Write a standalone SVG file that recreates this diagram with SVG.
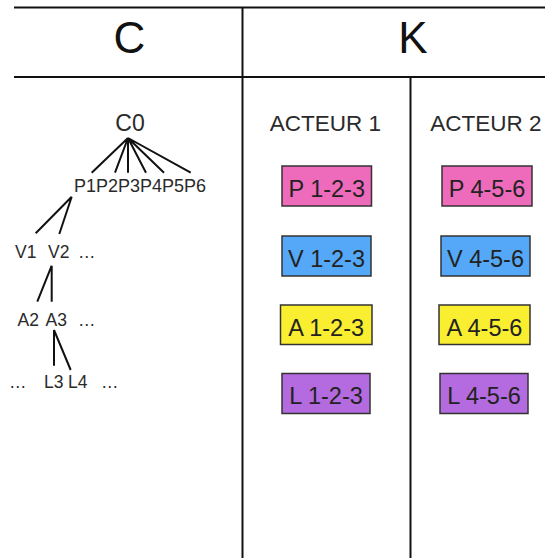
<svg xmlns="http://www.w3.org/2000/svg" width="545" height="558" viewBox="0 0 545 558">
<style>
text{font-family:"Liberation Sans",Arial,sans-serif;fill:#2a2a2a}
.grid{stroke:#111;stroke-width:2;fill:none}
.hdr{font-size:44px;text-anchor:middle;fill:#111}
.act{font-size:22.5px;text-anchor:middle}
.t{font-size:17.5px}
.c{stroke:#111;stroke-width:2;fill:none}
.box{stroke:#333;stroke-width:1.5}
.bt{font-size:23.5px;text-anchor:middle;fill:#222}
.pink{fill:#EE6BBB}.blue{fill:#55A8F7}.yellow{fill:#F9EE2F}.purple{fill:#B46BE0}
</style>
<rect width="545" height="558" fill="#fff"/>
<g id="table">
<line class="grid" x1="14" y1="7.5" x2="545" y2="7.5"/>
<line class="grid" x1="14" y1="77" x2="545" y2="77"/>
<line class="grid" x1="242.5" y1="7.5" x2="242.5" y2="558"/>
<line class="grid" x1="410.5" y1="77" x2="410.5" y2="558"/>
<text class="hdr" x="129.5" y="52.5">C</text>
<text class="hdr" x="413" y="52.5">K</text>
<text class="act" x="325.5" y="131">ACTEUR 1</text>
<text class="act" x="486" y="131">ACTEUR 2</text>
</g>
<g id="connectors">
<path class="c" d="M128 138L91.7 172.7M128 138L115 172.7M128 138L128 172.7M128 138L146 172.7M128 138L164 172.7M128 138L190.7 172.7"/>
<path class="c" d="M71.7 196.7L35.7 233.3M71.7 196.7L59.3 234"/>
<path class="c" d="M51.7 265.7L37.3 301.7M51.7 265.7L51.7 301.7"/>
<path class="c" d="M54 330L54 365.7M54 330L70.7 370"/>
</g>
<g id="C0"><text x="130" y="130.5" style="font-size:23px;text-anchor:middle">C0</text></g>
<g id="P"><text class="t" x="74" y="191.5" style="font-size:18px">P1P2P3P4P5P6</text></g>
<g id="V1"><text class="t" x="15" y="257.5">V1</text></g>
<g id="V2"><text class="t" x="48" y="257.5">V2</text><text class="t" x="78" y="257.5">…</text></g>
<g id="A2"><text class="t" x="17.5" y="326">A2</text></g>
<g id="A3"><text class="t" x="45.5" y="326">A3</text><text class="t" x="78" y="326">…</text></g>
<g id="L3"><text class="t" x="9" y="387.5">…</text><text class="t" x="44" y="387.5">L3</text></g>
<g id="L4"><text class="t" x="68" y="387.5">L4</text><text class="t" x="101" y="387.5">…</text></g>
<g id="P123"><rect class="box pink" x="282" y="166" width="89.5" height="40"/><text class="bt" x="326.7" y="196.5">P 1-2-3</text></g>
<g id="V123"><rect class="box blue" x="282" y="236" width="89" height="40"/><text class="bt" x="326.5" y="266.5">V 1-2-3</text></g>
<g id="A123"><rect class="box yellow" x="280.5" y="305" width="91.5" height="39.5"/><text class="bt" x="326.2" y="335.5">A 1-2-3</text></g>
<g id="L123"><rect class="box purple" x="282" y="373.5" width="88" height="40"/><text class="bt" x="326" y="404">L 1-2-3</text></g>
<g id="P456"><rect class="box pink" x="442" y="166" width="90" height="40"/><text class="bt" x="487" y="196.5">P 4-5-6</text></g>
<g id="V456"><rect class="box blue" x="441" y="236" width="89" height="40"/><text class="bt" x="485.5" y="266.5">V 4-5-6</text></g>
<g id="A456"><rect class="box yellow" x="439" y="305" width="91" height="39.5"/><text class="bt" x="484.5" y="335.5">A 4-5-6</text></g>
<g id="L456"><rect class="box purple" x="440" y="373.5" width="88" height="40"/><text class="bt" x="484" y="404">L 4-5-6</text></g>
</svg>
